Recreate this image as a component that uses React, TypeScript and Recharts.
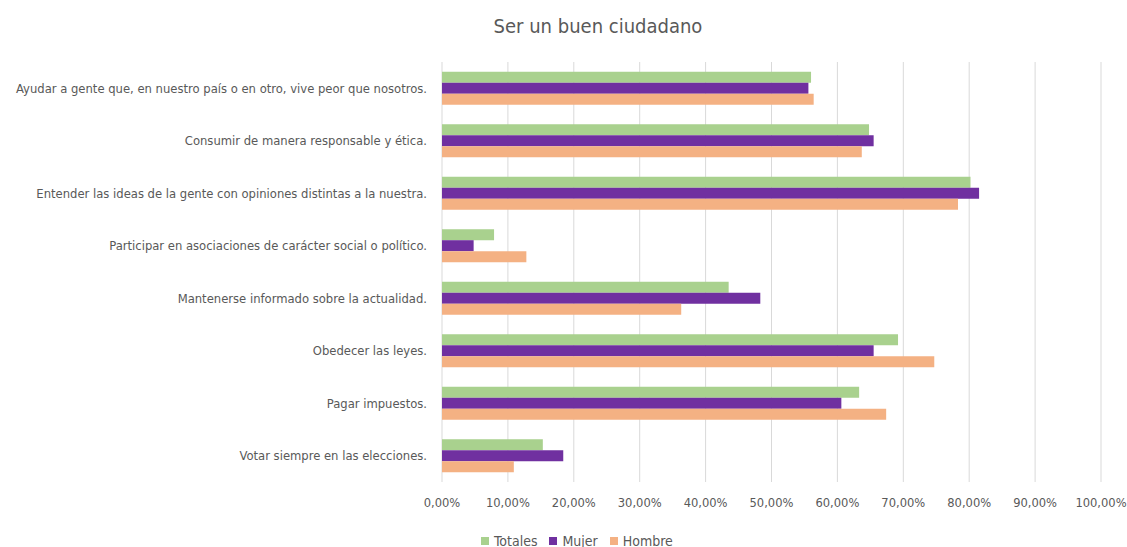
import {
  Bar,
  BarChart,
  CartesianGrid,
  Legend,
  XAxis,
  YAxis,
} from "recharts";

const categories = [
  "Ayudar a gente que, en nuestro país o en otro, vive peor que nosotros.",
  "Consumir de manera responsable y ética.",
  "Entender las ideas de la gente con opiniones distintas a la nuestra.",
  "Participar en asociaciones de carácter social o político.",
  "Mantenerse informado sobre la actualidad.",
  "Obedecer las leyes.",
  "Pagar impuestos.",
  "Votar siempre en las elecciones.",
];

const totales = [56.0, 64.8, 80.2, 7.9, 43.5, 69.2, 63.3, 15.3];
const mujer = [55.6, 65.5, 81.5, 4.8, 48.3, 65.5, 60.6, 18.4];
const hombre = [56.4, 63.7, 78.3, 12.8, 36.3, 74.7, 67.4, 10.9];

const xTicks = [0, 10, 20, 30, 40, 50, 60, 70, 80, 90, 100];

const series = [
  { key: "Totales", color: "#A9D18E" },
  { key: "Mujer", color: "#7030A0" },
  { key: "Hombre", color: "#F4B183" },
];

const data = categories.map((name, i) => ({
  name,
  Totales: totales[i],
  Mujer: mujer[i],
  Hombre: hombre[i],
}));

const FONT = '"DejaVu Sans Condensed", "Liberation Sans Narrow", sans-serif';
const TEXT = "#595959";

const pct = (v: number) => v.toFixed(2).replace(".", ",") + "%";

// single-line category labels, right aligned against the plot
function CategoryTick(props: any) {
  const { x, y, payload } = props;
  return (
    <text x={x} y={y} dy={4.5} textAnchor="end" fill={TEXT} fontSize={12.9} fontFamily={FONT}>
      {payload.value}
    </text>
  );
}

function LegendBox() {
  return (
    <div
      style={{
        display: "flex",
        alignItems: "center",
        height: 30,
        paddingTop: 17,
        boxSizing: "border-box",
        paddingLeft: 481,
        fontSize: 14,
        fontFamily: FONT,
        color: TEXT,
        lineHeight: "14px",
      }}
    >
      {series.map((s) => (
        <span key={s.key} style={{ display: "inline-flex", alignItems: "center", marginRight: 12 }}>
          <span style={{ width: 8, height: 8, background: s.color, marginRight: 5, display: "inline-block" }} />
          {s.key}
        </span>
      ))}
    </div>
  );
}

export default function App() {
  return (
    <div style={{ position: "absolute", left: 0, top: 0, width: 1127, height: 547, fontFamily: FONT }}>
      <div
        style={{
          position: "absolute",
          top: 14,
          left: 0,
          width: 1196,
          textAlign: "center",
          fontSize: 20,
          color: TEXT,
        }}
      >
        Ser un buen ciudadano
      </div>
      <BarChart
        width={1127}
        height={547}
        data={data}
        layout="vertical"
        margin={{ top: 62, right: 26, bottom: 0, left: 0 }}
        barCategoryGap="18.5%"
        barGap={0}
      >
        <CartesianGrid horizontal={false} stroke="#D9D9D9" />
        <XAxis
          type="number"
          domain={[0, 100]}
          ticks={xTicks}
          tickFormatter={pct}
          axisLine={false}
          tickLine={false}
          tickMargin={10}
          height={35}
          tick={{ fill: TEXT, fontSize: 12.8, fontFamily: FONT }}
        />
        <YAxis
          type="category"
          dataKey="name"
          width={442}
          axisLine={false}
          tickLine={false}
          tickMargin={9}
          interval={0}
          tick={<CategoryTick />}
        />
        <Legend
          verticalAlign="bottom"
          height={30}
          content={<LegendBox />}
          wrapperStyle={{ left: 0, width: 1127 }}
        />
        {series.map((s) => (
          <Bar key={s.key} dataKey={s.key} fill={s.color} isAnimationActive={false} />
        ))}
      </BarChart>
    </div>
  );
}
